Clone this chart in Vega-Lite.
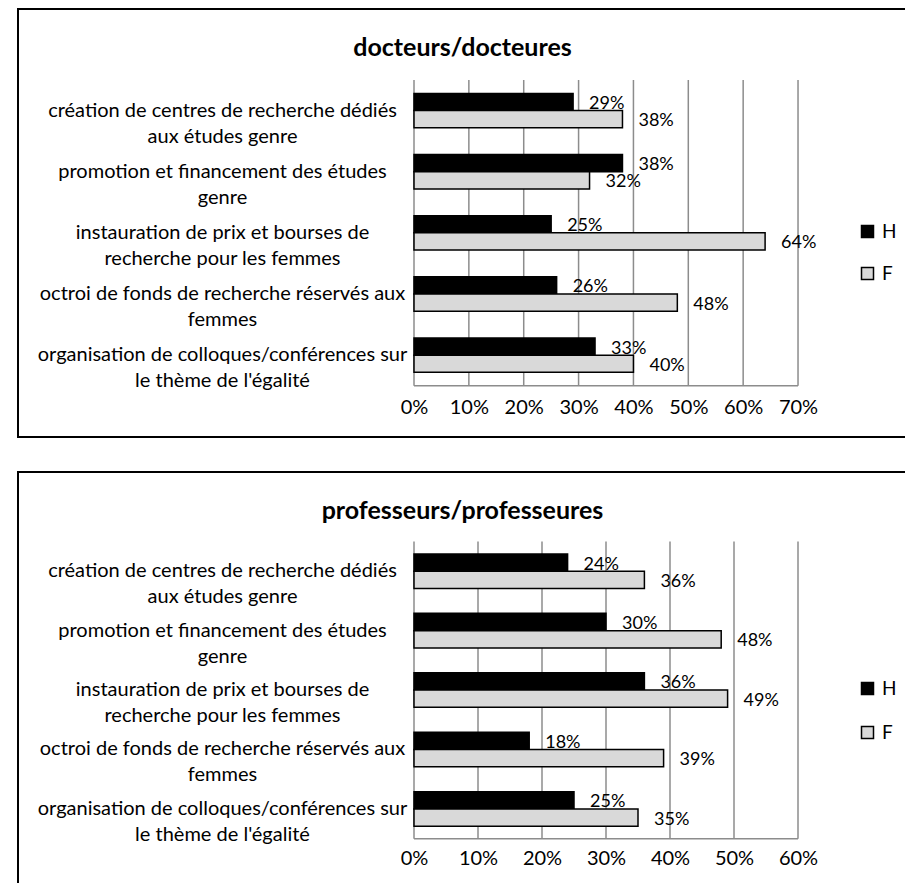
{
  "$schema": "https://vega.github.io/schema/vega-lite/v6.json",
  "padding": {"left": 17, "top": 8, "right": 0, "bottom": 0},
  "background": "white",
  "spacing": 33,
  "config": {
    "view": {"stroke": "black", "strokeWidth": 2},
    "font": "Lato",
    "axis": {"labelFont": "Lato", "labelColor": "black", "domain": false, "ticks": false, "tickSize": 0, "grid": false, "title": null, "labelPadding": 0},
    "legend": {"labelFont": "Lato", "labelColor": "black"}
  },
  "datasets": {
    "docteurs": [
      {"cat": "création de centres de recherche dédiés\naux études genre", "sexe": "H", "v": 0.29},
      {"cat": "création de centres de recherche dédiés\naux études genre", "sexe": "F", "v": 0.38},
      {"cat": "promotion et financement des études\ngenre", "sexe": "H", "v": 0.38},
      {"cat": "promotion et financement des études\ngenre", "sexe": "F", "v": 0.32},
      {"cat": "instauration de prix et bourses de\nrecherche pour les femmes", "sexe": "H", "v": 0.25},
      {"cat": "instauration de prix et bourses de\nrecherche pour les femmes", "sexe": "F", "v": 0.64},
      {"cat": "octroi de fonds de recherche réservés aux\nfemmes", "sexe": "H", "v": 0.26},
      {"cat": "octroi de fonds de recherche réservés aux\nfemmes", "sexe": "F", "v": 0.48},
      {"cat": "organisation de colloques/conférences sur\nle thème de l'égalité", "sexe": "H", "v": 0.33},
      {"cat": "organisation de colloques/conférences sur\nle thème de l'égalité", "sexe": "F", "v": 0.40}
    ],
    "professeurs": [
      {"cat": "création de centres de recherche dédiés\naux études genre", "sexe": "H", "v": 0.24},
      {"cat": "création de centres de recherche dédiés\naux études genre", "sexe": "F", "v": 0.36},
      {"cat": "promotion et financement des études\ngenre", "sexe": "H", "v": 0.30},
      {"cat": "promotion et financement des études\ngenre", "sexe": "F", "v": 0.48},
      {"cat": "instauration de prix et bourses de\nrecherche pour les femmes", "sexe": "H", "v": 0.36},
      {"cat": "instauration de prix et bourses de\nrecherche pour les femmes", "sexe": "F", "v": 0.49},
      {"cat": "octroi de fonds de recherche réservés aux\nfemmes", "sexe": "H", "v": 0.18},
      {"cat": "octroi de fonds de recherche réservés aux\nfemmes", "sexe": "F", "v": 0.39},
      {"cat": "organisation de colloques/conférences sur\nle thème de l'égalité", "sexe": "H", "v": 0.25},
      {"cat": "organisation de colloques/conférences sur\nle thème de l'égalité", "sexe": "F", "v": 0.35}
    ],
    "grid1": [{"g": 0}, {"g": 0.1}, {"g": 0.2}, {"g": 0.3}, {"g": 0.4}, {"g": 0.5}, {"g": 0.6}, {"g": 0.7}],
    "grid2": [{"g": 0}, {"g": 0.1}, {"g": 0.2}, {"g": 0.3}, {"g": 0.4}, {"g": 0.5}, {"g": 0.6}]
  },
  "vconcat": [
    {
      "width": 889,
      "height": 428,
      "title": {"text": "docteurs/docteures", "offset": -39, "dy": 25, "baseline": "middle", "anchor": "middle", "fontSize": 25, "fontWeight": "bold", "font": "Lato", "color": "black"},
      "layer": [
        {
          "data": {"name": "grid1"},
          "mark": {"type": "rule", "color": "#8c8c8c", "strokeWidth": 1.5},
          "encoding": {
            "x": {"field": "g", "type": "quantitative"},
            "y": {"datum": "création de centres de recherche dédiés\naux études genre", "type": "nominal", "bandPosition": 0},
            "y2": {"datum": "organisation de colloques/conférences sur\nle thème de l'égalité", "bandPosition": 1}
          }
        },
        {
          "data": {"name": "grid1"},
          "mark": {"type": "rule", "color": "#8c8c8c", "strokeWidth": 1.5},
          "encoding": {
            "x": {"aggregate": "min", "field": "g", "type": "quantitative"},
            "x2": {"aggregate": "max", "field": "g"},
            "y": {"datum": "organisation de colloques/conférences sur\nle thème de l'égalité", "type": "nominal", "bandPosition": 1}
          }
        },
        {
          "data": {"name": "docteurs"},
          "mark": {"type": "bar", "stroke": "black", "strokeWidth": 1.5},
          "encoding": {
            "x": {"field": "v", "type": "quantitative",
                  "scale": {"domain": [-0.72184, 0.89865], "nice": false, "zero": false},
                  "axis": {"values": [0, 0.1, 0.2, 0.3, 0.4, 0.5, 0.6, 0.7], "format": ".0%", "offset": -30, "labelBaseline": "middle", "labelFontSize": 20, "labelFlush": false, "labelOverlap": false, "title": null}},
            "y": {"field": "cat", "type": "nominal",
                  "scale": {"domain": ["création de centres de recherche dédiés\naux études genre", "promotion et financement des études\ngenre", "instauration de prix et bourses de\nrecherche pour les femmes", "octroi de fonds de recherche réservés aux\nfemmes", "organisation de colloques/conférences sur\nle thème de l'égalité"], "paddingInner": 0, "paddingOuter": 1.3516, "align": 0.5806},
                  "axis": {"offset": -204, "labelAlign": "center", "labelBaseline": "middle", "labelExpr": "split(datum.label, '\\n')", "labelFontSize": 20, "labelLineHeight": 26, "labelLimit": 500, "title": null}},
            "yOffset": {"field": "sexe", "type": "nominal", "scale": {"domain": ["H", "F"], "paddingInner": 0, "paddingOuter": 0.781}},
            "color": {"field": "sexe", "type": "nominal",
                      "scale": {"domain": ["H", "F"], "range": ["#000000", "#d9d9d9"]},
                      "legend": {"orient": "none", "legendX": 840, "legendY": 213, "title": null, "symbolType": "square", "symbolSize": 144, "symbolStrokeColor": "black", "symbolStrokeWidth": 1.5, "labelFontSize": 19, "labelOffset": 5, "rowPadding": 22, "padding": 0}}
          }
        },
        {
          "data": {"name": "docteurs"},
          "mark": {"type": "text", "align": "left", "baseline": "middle", "dx": 16, "dy": 2, "fontSize": 18, "font": "Lato", "color": "black"},
          "encoding": {
            "x": {"field": "v", "type": "quantitative"},
            "y": {"field": "cat", "type": "nominal"},
            "yOffset": {"field": "sexe", "type": "nominal"},
            "text": {"field": "v", "type": "quantitative", "format": ".0%"}
          }
        }
      ]
    },
    {
      "width": 889,
      "height": 416,
      "title": {"text": "professeurs/professeures", "offset": -39, "dy": 25, "baseline": "middle", "anchor": "middle", "fontSize": 25, "fontWeight": "bold", "font": "Lato", "color": "black"},
      "layer": [
        {
          "data": {"name": "grid2"},
          "mark": {"type": "rule", "color": "#8c8c8c", "strokeWidth": 1.5},
          "encoding": {
            "x": {"field": "g", "type": "quantitative"},
            "y": {"datum": "création de centres de recherche dédiés\naux études genre", "type": "nominal", "bandPosition": 0},
            "y2": {"datum": "organisation de colloques/conférences sur\nle thème de l'égalité", "bandPosition": 1}
          }
        },
        {
          "data": {"name": "grid2"},
          "mark": {"type": "rule", "color": "#8c8c8c", "strokeWidth": 1.5},
          "encoding": {
            "x": {"aggregate": "min", "field": "g", "type": "quantitative"},
            "x2": {"aggregate": "max", "field": "g"},
            "y": {"datum": "organisation de colloques/conférences sur\nle thème de l'égalité", "type": "nominal", "bandPosition": 1}
          }
        },
        {
          "data": {"name": "professeurs"},
          "mark": {"type": "bar", "stroke": "black", "strokeWidth": 1.5},
          "encoding": {
            "x": {"field": "v", "type": "quantitative",
                  "scale": {"domain": [-0.61875, 0.77031], "nice": false, "zero": false},
                  "axis": {"values": [0, 0.1, 0.2, 0.3, 0.4, 0.5, 0.6], "format": ".0%", "offset": -29.7, "labelBaseline": "middle", "labelFontSize": 20, "labelFlush": false, "labelOverlap": false, "title": null}},
            "y": {"field": "cat", "type": "nominal",
                  "scale": {"domain": ["création de centres de recherche dédiés\naux études genre", "promotion et financement des études\ngenre", "instauration de prix et bourses de\nrecherche pour les femmes", "octroi de fonds de recherche réservés aux\nfemmes", "organisation de colloques/conférences sur\nle thème de l'égalité"], "paddingInner": 0, "paddingOuter": 1.3748, "align": 0.5847},
                  "axis": {"offset": -204, "labelAlign": "center", "labelBaseline": "middle", "labelExpr": "split(datum.label, '\\n')", "labelFontSize": 20, "labelLineHeight": 26, "labelLimit": 500, "title": null}},
            "yOffset": {"field": "sexe", "type": "nominal", "scale": {"domain": ["H", "F"], "paddingInner": 0, "paddingOuter": 0.72}},
            "color": {"field": "sexe", "type": "nominal",
                      "scale": {"domain": ["H", "F"], "range": ["#000000", "#d9d9d9"]},
                      "legend": {"orient": "none", "legendX": 840, "legendY": 207, "title": null, "symbolType": "square", "symbolSize": 144, "symbolStrokeColor": "black", "symbolStrokeWidth": 1.5, "labelFontSize": 19, "labelOffset": 5, "rowPadding": 24, "padding": 0}}
          }
        },
        {
          "data": {"name": "professeurs"},
          "mark": {"type": "text", "align": "left", "baseline": "middle", "dx": 16, "dy": 2, "fontSize": 18, "font": "Lato", "color": "black"},
          "encoding": {
            "x": {"field": "v", "type": "quantitative"},
            "y": {"field": "cat", "type": "nominal"},
            "yOffset": {"field": "sexe", "type": "nominal"},
            "text": {"field": "v", "type": "quantitative", "format": ".0%"}
          }
        }
      ]
    }
  ],
  "resolve": {"scale": {"x": "independent", "y": "independent", "yOffset": "independent"}, "legend": {"color": "independent"}}
}
